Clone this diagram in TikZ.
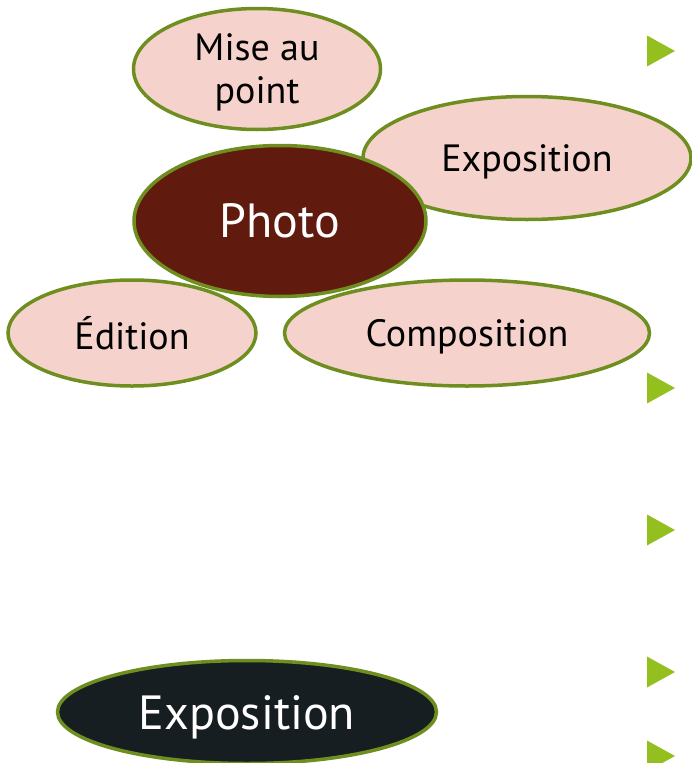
\documentclass[tikz,border=0pt]{standalone}
\usepackage{fontspec}
\setmainfont{PT Sans}
\usetikzlibrary{shapes.geometric}
\definecolor{petal}{HTML}{F6D2CC}
\definecolor{rim}{HTML}{6E8E1F}
\definecolor{wine}{HTML}{611A0E}
\definecolor{ink}{HTML}{171E21}
\definecolor{bullet}{HTML}{93C01F}

\begin{document}
\begin{tikzpicture}[x=1pt,y=-1pt,
  leaf/.style={ellipse,draw=rim,line width=3.5pt,fill=petal,inner sep=0pt,
    text depth=0pt,font=\fontsize{38}{43}\selectfont,align=center},
  hub/.style={leaf,fill=wine,text=white,font=\fontsize{48}{54}\selectfont},
  title/.style={hub,fill=ink}]
\useasboundingbox (0,0) rectangle (692,763);
\node[leaf,minimum width=247pt,minimum height=121pt] (focus) at (257,69) {Mise au\\point};
\node[leaf,minimum width=328pt,minimum height=123pt] (expo) at (527,158) {Exposition};
\node[leaf,minimum width=248pt,minimum height=106pt] (edit) at (132,333) {Édition};
\node[leaf,minimum width=365pt,minimum height=106pt] (compo) at (467,333) {Composition};
\node[hub,minimum width=292pt,minimum height=151pt] (photo) at (280,221) {Photo};
\node[title,minimum width=379pt,minimum height=103pt] (topic) at (247,712) {Exposition};
% puces
\foreach \y in {51,388,530,672,756}
  \fill[bullet] (647,\y-15.5) -- (675,\y) -- (647,\y+15.5) -- cycle;
\end{tikzpicture}
\end{document}
